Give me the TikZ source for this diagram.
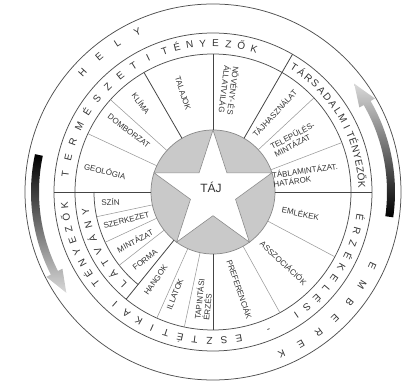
\documentclass[tikz,border=0pt]{standalone}
\usepackage{fontspec}
\setmainfont{Liberation Sans}
\definecolor{txtc}{HTML}{333333}
\definecolor{darkc}{HTML}{444444}
\definecolor{lightc}{HTML}{9A9A9A}
\definecolor{ringc}{HTML}{505050}
\definecolor{fillc}{HTML}{C9C9C9}
\definecolor{starc}{HTML}{8A8A8A}
\newcommand\arcletters[5]{%
  \foreach \ch [count=\i] in {#1} {%
    \pgfmathsetmacro\ang{#2-(\i-1)*#3}%
    \node[bandtxt, rotate=\ang-90] (#5\i) at (\ang:#4) {\ch};
  }%
}
\begin{document}
\begin{tikzpicture}[x=1pt,y=1pt,
  lab/.style={text=txtc, font=\fontsize{8}{8.8}\selectfont, inner sep=0pt, align=left},
  bandtxt/.style={text=txtc, font=\fontsize{10}{11}\selectfont, inner sep=0pt, text height=7.2pt, text depth=0pt},
  darkl/.style={draw=darkc, line width=0.8pt},
  lightl/.style={draw=lightc, line width=0.55pt},
  ringl/.style={draw=ringc, line width=0.75pt},
]
\useasboundingbox (-213,-190) rectangle (194,192);
% centre
\fill[fillc] (0,0) circle (62);
\draw[starc, fill=white, line width=0.6pt] (90:62) -- (126:23.7) -- (162:62) -- (198:23.7) -- (234:62) -- (270:23.7) -- (306:62) -- (342:23.7) -- (18:62) -- (54:23.7) -- cycle;
\draw[starc, line width=0.7pt] (0,0) circle (62);
\node[font=\fontsize{12}{13}\selectfont, text=txtc] (taj) at (-2,5) {TÁJ};
% rings
\draw[ringl] (0,0) circle (138);
\draw[ringl] (0,0) circle (159);
\draw[ringl] (0,0) circle (188);
\draw[ringl] (180:119) arc (180:231:119);
% radial lines
\foreach \a in {0,60,180} \draw[darkl] (\a:62) -- (\a:159);
\foreach \a in {90,120,231,270} \draw[darkl] (\a:62) -- (\a:138);
\foreach \a in {21,43,138,155,246,258,299,332} \draw[lightl] (\a:62) -- (\a:138);
\foreach \a in {192,205,218} \draw[lightl] (\a:62) -- (\a:119);
% sector labels
\node[lab, rotate=-72] (talajok) at (107:103) {TALAJOK};
\node[lab, rotate=-97] (noveny) at (81:103) {NÖVÉNY- ÉS\\ÁLLATVILÁG};
\node[lab, rotate=47] (tajhasz) at (52:100) {TÁJHASZNÁLAT};
\node[lab, rotate=28] (telep) at (33:97) {TELEPÜLÉS-\\MINTÁZAT};
\node[lab, rotate=8] (tabla) at (10.5:94) {TÁBLAMINTÁZAT.\\HATÁROK};
\node[lab, rotate=-11] (emlek) at (-13.6:90) {EMLÉKEK};
\node[lab, rotate=-43] (asszoc) at (-45:100) {ASSZOCIÁCIÓK};
\node[lab, rotate=-71] (pref) at (-74.6:101) {PREFERENCIÁK};
\node[lab, rotate=84] (tapint) at (265:108) {TAPINTÁSI\\ÉRZÉS};
\node[lab, rotate=68] (illat) at (249.6:109) {ILLATOK};
\node[lab, rotate=55] (hang) at (237:105) {HANGOK};
\node[lab, rotate=38] (forma) at (225:96) {FORMA};
\node[lab, rotate=28] (mint) at (212:92) {MINTÁZAT};
\node[lab, rotate=14] (szerk) at (198:91) {SZERKEZET};
\node[lab, rotate=4] (szin) at (185.5:103) {SZÍN};
\node[lab, rotate=-14] (geol) at (169:110) {GEOLÓGIA};
\node[lab, rotate=-37] (domb) at (144:104) {DOMBORZAT};
\node[lab, rotate=-53] (klima) at (129:114) {KLÍMA};
% band texts
\arcletters{T,E,R,M,É,S,Z,E,T,I}{173}{6.35}{149}{ta}
\arcletters{T,É,N,Y,E,Z,Ő,K}{109}{5}{149}{tb}
\arcletters{T,Á,R,S,A,D,A,L,M,I}{57}{3.45}{149}{sa}
\arcletters{T,É,N,Y,E,Z,Ő,K}{22.5}{2.8}{149}{sb}
\arcletters{É,R,Z,É,K,E,L,É,S,I}{350}{5.1}{149}{ea}
\arcletters{-}{292}{0}{149}{eh}
\arcletters{E,S,Z,T,É,T,I,K,A,I}{280}{5.7}{149}{eb}
\arcletters{T,É,N,Y,E,Z,Ő,K}{218}{4.7}{149}{ec}
\arcletters{L,Á,T,V,Á,N,Y}{225.6}{6.15}{129}{la}
\arcletters{H,E,L,Y}{137.5}{7.4}{177}{ha}
\arcletters{E,M,B,E,R,E,K}{335}{7}{176}{ma}
% arrows
\shade[top color=gray!30, bottom color=black] (-8:174) arc (-8:30:174) -- (30:169) -- (37.5:178) -- (30:187) -- (30:182) arc (30:-8:182) -- cycle;
\shade[top color=black, bottom color=gray!30] (168:182) arc (168:207:182) -- (207:187) -- (214.5:178) -- (207:169) -- (207:174) arc (207:168:174) -- cycle;
\end{tikzpicture}
\end{document}
